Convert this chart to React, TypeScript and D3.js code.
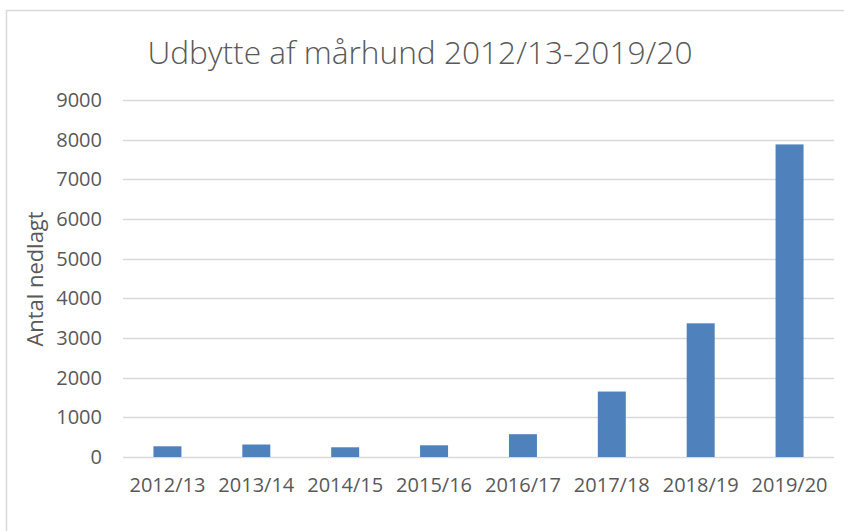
import React from 'react';
import * as d3 from 'd3';

// Udbytte af mårhund (antal nedlagt) pr. jagtsæson
const seasons = ['2012/13', '2013/14', '2014/15', '2015/16', '2016/17', '2017/18', '2018/19', '2019/20'];
const harvest = [270, 315, 245, 295, 575, 1650, 3370, 7880];
const yTicks = [0, 1000, 2000, 3000, 4000, 5000, 6000, 7000, 8000, 9000];

const chartTitle = 'Udbytte af mårhund 2012/13-2019/20';
const yTitle = 'Antal nedlagt';

const W = 844;
const H = 531;
const FONT = '"Open Sans", "Liberation Sans", sans-serif';
const TEXT = '#595959';
const GRID = '#d9d9d9';
const BAR = '#4f81bd';

export default function App() {
  const margin = { top: 100, right: 10, bottom: 74, left: 123 };
  const plotRight = W - margin.right;
  const plotBottom = H - margin.bottom;

  const x = d3.scaleBand<string>()
    .domain(seasons)
    .range([margin.left, plotRight])
    .paddingInner(0.685)
    .paddingOuter(0.3425);

  const y = d3.scaleLinear()
    .domain([0, 9000])
    .range([plotBottom, margin.top]);

  return (
    <div style={{ position: 'fixed', left: 0, top: 0 }}>
      <svg width={W} height={H} style={{ display: 'block', background: '#fff' }}>
        {/* chart border (only top/left visible in the crop) */}
        <path d={`M6.5,${H} V10.5 H${W}`} fill="none" stroke={GRID} strokeWidth={1.5} />

        <text
          x={420}
          y={64}
          textAnchor="middle"
          fontFamily={FONT}
          fontSize={31}
          fontWeight={300}
          fill={TEXT}
          textLength={545}
          lengthAdjust="spacingAndGlyphs"
        >
          {chartTitle}
        </text>

        {/* gridlines + y tick labels */}
        {yTicks.map(t => (
          <g key={t}>
            <line
              x1={margin.left}
              x2={plotRight}
              y1={Math.round(y(t)) + 0.5}
              y2={Math.round(y(t)) + 0.5}
              stroke={GRID}
              strokeWidth={1.5}
            />
            <text
              x={102}
              y={y(t)}
              dy="0.35em"
              textAnchor="end"
              fontFamily={FONT}
              fontSize={20}
              fill={TEXT}
            >
              {t}
            </text>
          </g>
        ))}

        {/* bars */}
        {seasons.map((s, i) => (
          <rect
            key={s}
            x={x(s)}
            y={y(harvest[i])}
            width={x.bandwidth()}
            height={y(0) - y(harvest[i])}
            fill={BAR}
          />
        ))}

        {/* category labels */}
        {seasons.map(s => (
          <text
            key={s}
            x={(x(s) || 0) + x.bandwidth() / 2}
            y={492}
            textAnchor="middle"
            fontFamily={FONT}
            fontSize={20}
            fill={TEXT}
          >
            {s}
          </text>
        ))}

        <text
          transform={`translate(43,${279}) rotate(-90)`}
          textAnchor="middle"
          fontFamily={FONT}
          fontSize={22}
          fill={TEXT}
          textLength={135}
          lengthAdjust="spacingAndGlyphs"
        >
          {yTitle}
        </text>
      </svg>
    </div>
  );
}
